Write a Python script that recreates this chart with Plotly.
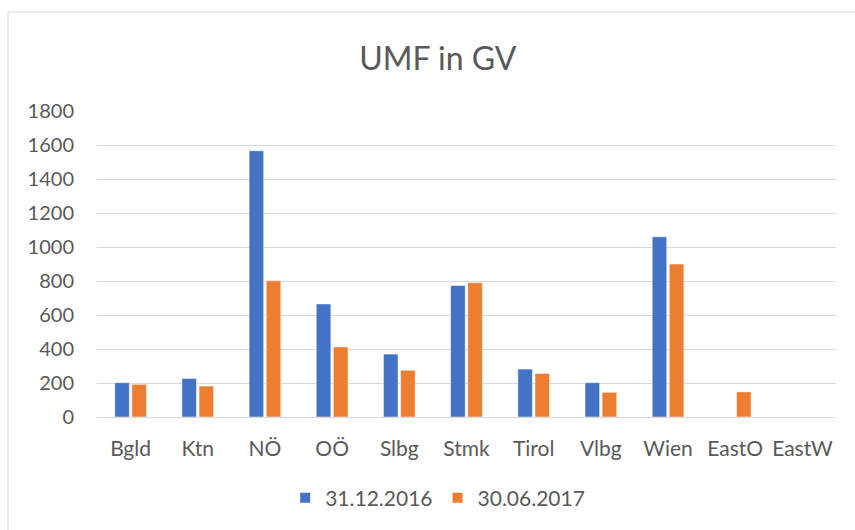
import plotly.graph_objects as go

categories = ["Bgld", "Ktn", "NÖ", "OÖ", "Slbg", "Stmk", "Tirol", "Vlbg", "Wien", "EastO", "EastW"]
series_2016 = [202, 227, 1566, 665, 370, 774, 282, 202, 1060, None, None]
series_2017 = [192, 182, 801, 412, 275, 790, 256, 145, 900, 148, None]
y_ticks = [0, 200, 400, 600, 800, 1000, 1200, 1400, 1600, 1800]

font_family = "Lato, 'Open Sans', sans-serif"
grey = "#595959"

fig = go.Figure()
fig.add_trace(go.Bar(name="31.12.2016", x=categories, y=series_2016,
                     marker=dict(color="#4472C4", line=dict(color="white", width=0.5))))
fig.add_trace(go.Bar(name="30.06.2017", x=categories, y=series_2017,
                     marker=dict(color="#ED7D31", line=dict(color="white", width=0.5))))

fig.update_layout(
    width=855, height=530,
    paper_bgcolor="white", plot_bgcolor="white",
    margin=dict(l=97, r=19, t=111, b=113),
    barmode="group", bargap=0.49, bargroupgap=0.15,
    title=dict(text="UMF in GV", x=0.512, xanchor="center", y=0.89, yanchor="middle",
               font=dict(family=font_family, size=32, color=grey)),
    font=dict(family=font_family, size=20, color=grey),
    legend=dict(orientation="h", x=0.461, xanchor="center", y=-0.265, yanchor="middle",
                font=dict(size=21, color=grey), itemsizing="constant"),
    showlegend=True,
    shapes=[dict(type="rect", xref="paper", yref="paper",
                 x0=-89/739, x1=1.1, y0=-0.5, y1=(530 - 12 - 113) / 306,
                 line=dict(color="#D9D9D9", width=1), fillcolor="rgba(0,0,0,0)", layer="below")],
)
fig.update_xaxes(showgrid=False, showline=False, ticks="", tickfont=dict(size=21, color=grey),
                 ticklabelstandoff=17)
fig.update_yaxes(range=[0, 1800], tickvals=y_ticks, showgrid=True, gridcolor="#D9D9D9",
                 gridwidth=1, zeroline=True, zerolinecolor="#D9D9D9", zerolinewidth=1,
                 showline=False, ticks="", tickfont=dict(size=20, color=grey), ticklabelstandoff=22)

fig.write_html("out.html", config={"displayModeBar": False},
               post_script="document.body.style.margin='0';")
